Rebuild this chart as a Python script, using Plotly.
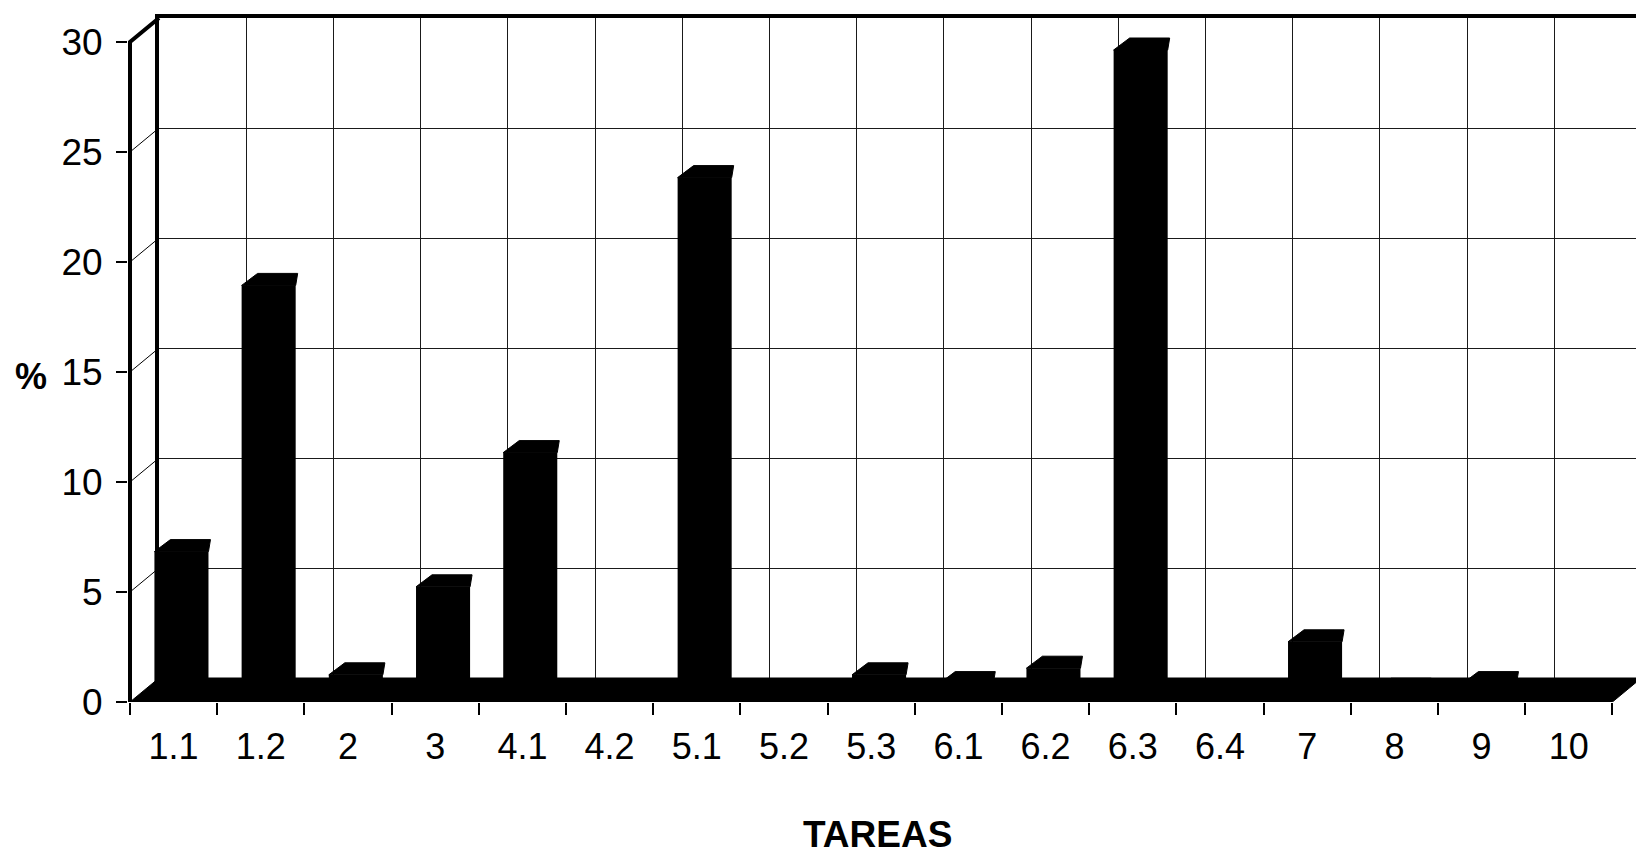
import plotly.graph_objects as go

# ---------------- data ----------------
CATEGORIES = ["1.1", "1.2", "2", "3", "4.1", "4.2", "5.1", "5.2", "5.3",
              "6.1", "6.2", "6.3", "6.4", "7", "8", "9", "10"]
PERCENT = [6.4, 18.5, 0.8, 4.8, 10.9, 0.0, 23.4, 0.0, 0.8,
           0.4, 1.1, 29.2, 0.0, 2.3, 0.1, 0.4, 0.0]
Y_TICKS = [0, 5, 10, 15, 20, 25, 30]
X_TITLE = "TAREAS"
Y_TITLE = "%"

# ---------------- geometry / style ----------------
FIG_W, FIG_H = 1636, 859
M_L, M_R, M_T, M_B = 128, 0, 18, 157
FRONT_X0_PX = 130          # pixel x of the front (left) value axis
PX_CAT = 87.2              # pixels per category slot
PX_PCT = 22.0              # pixels per percent unit
DEPTH_PX_X, DEPTH_PX_Y = 29, 24   # 3-D depth offset of the back wall
BAR_DEPTH = 0.4            # fraction of depth where bar front faces sit
BAR_LEFT = 0.28            # bar left edge from slot start (category units)
BAR_W = 0.62
CAP_DXL, CAP_DXR, CAP_DY = 16 / PX_CAT, 2 / PX_CAT, 12 / PX_PCT
FONT = "Liberation Sans, Arial, Helvetica, sans-serif"
INK = "black"
GRID = "#1a1a1a"

plot_w = FIG_W - M_L - M_R
plot_h = FIG_H - M_T - M_B
ddx = DEPTH_PX_X / PX_CAT
ddy = DEPTH_PX_Y / PX_PCT
n = len(CATEGORIES)
xs = list(range(n))
ymax = max(Y_TICKS)

x_lo = -0.5 - (FRONT_X0_PX - M_L) / PX_CAT
x_hi = x_lo + plot_w / PX_CAT
y_hi = plot_h / PX_PCT

# back wall subplot geometry
bw_x0 = (FRONT_X0_PX + DEPTH_PX_X - M_L) / plot_w
bw_xhi = -0.5 + (1 - bw_x0) * plot_w / PX_CAT
bw_y0 = DEPTH_PX_Y / plot_h
bw_y1 = min(1.0, (DEPTH_PX_Y + ymax * PX_PCT) / plot_h)

fig = go.Figure()

# dummy trace so the back-wall subplot exists
fig.add_trace(go.Scatter(x=[None], y=[None], xaxis="x", yaxis="y",
                         showlegend=False, hoverinfo="skip"))

# floor (black slab)
fig.add_trace(go.Scatter(
    x=[-0.5, n - 0.5, n - 0.5 + ddx, -0.5 + ddx, -0.5],
    y=[0, 0, ddy, ddy, 0],
    fill="toself", fillcolor=INK, line=dict(color=INK, width=1),
    mode="lines", xaxis="x2", yaxis="y2", showlegend=False, hoverinfo="skip"))

# bars
bar_base = BAR_DEPTH * ddy
fig.add_trace(go.Bar(
    x=xs, y=PERCENT, base=bar_base, width=BAR_W, offset=BAR_LEFT - 0.5,
    marker=dict(color=INK, line=dict(width=0)),
    xaxis="x2", yaxis="y2", showlegend=False, hoverinfo="skip"))

# bar tops (3-D caps)
cx, cy = [], []
for i, v in zip(xs, PERCENT):
    if v <= 0:
        continue
    xl = i - 0.5 + BAR_LEFT
    xr = xl + BAR_W
    top = v + bar_base
    cx += [xl, xl + CAP_DXL, xr + CAP_DXR, xr, xl, None]
    cy += [top, top + CAP_DY, top + CAP_DY, top, top, None]
fig.add_trace(go.Scatter(x=cx, y=cy, fill="toself", fillcolor=INK,
                         line=dict(color=INK, width=1), mode="lines",
                         xaxis="x2", yaxis="y2", showlegend=False,
                         hoverinfo="skip"))

# side-wall gridlines (front axis to back wall)
sx, sy = [], []
for v in Y_TICKS[1:-1]:
    sx += [-0.5, -0.5 + ddx, None]
    sy += [v, v + ddy, None]
fig.add_trace(go.Scatter(x=sx, y=sy, mode="lines",
                         line=dict(color=INK, width=1),
                         xaxis="x2", yaxis="y2", showlegend=False,
                         hoverinfo="skip"))

# top-left edge and front value axis line
fig.add_trace(go.Scatter(x=[-0.5, -0.5, -0.5 + ddx], y=[0, ymax, ymax + ddy],
                         mode="lines", line=dict(color=INK, width=4),
                         xaxis="x2", yaxis="y2", showlegend=False,
                         hoverinfo="skip"))

fig.update_layout(
    width=FIG_W, height=FIG_H,
    margin=dict(l=M_L, r=M_R, t=M_T, b=M_B, pad=0),
    paper_bgcolor="white", plot_bgcolor="rgba(0,0,0,0)",
    showlegend=False, hovermode=False,
    font=dict(family=FONT, color=INK),
    # back wall
    xaxis=dict(domain=[bw_x0, 1], range=[-0.5, bw_xhi], anchor="y",
               tickmode="linear", tick0=-0.5, dtick=1,
               showgrid=True, gridcolor=GRID, gridwidth=1,
               showticklabels=False, ticks="", zeroline=False,
               showline=True, side="top", linewidth=4, linecolor=INK,
               fixedrange=True),
    yaxis=dict(domain=[bw_y0, bw_y1], range=[0, ymax], anchor="x",
               tickmode="array", tickvals=Y_TICKS,
               showgrid=True, gridcolor=GRID, gridwidth=1,
               showticklabels=False, ticks="", zeroline=False,
               showline=True, linewidth=4, linecolor=INK, fixedrange=True),
    # front axes
    xaxis2=dict(domain=[0, 1], range=[x_lo, x_hi], anchor="y2",
                tickmode="array", tickvals=xs, ticktext=CATEGORIES,
                ticks="", showgrid=False, zeroline=False, showline=False,
                tickfont=dict(size=36, family=FONT, color=INK),
                ticklabelstandoff=20,
                minor=dict(tickmode="array",
                           tickvals=[i - 0.5 for i in range(n + 1)],
                           ticks="outside", ticklen=12, tickwidth=1.5,
                           tickcolor=INK, showgrid=False),
                fixedrange=True),
    yaxis2=dict(domain=[0, 1], range=[0, y_hi], anchor="x2",
                tickmode="array", tickvals=Y_TICKS,
                ticks="outside", ticklen=11, tickwidth=1.5, tickcolor=INK,
                showgrid=False, zeroline=False, showline=False,
                tickfont=dict(size=37, family=FONT, color=INK),
                ticklabelstandoff=6, fixedrange=True),
    annotations=[
        dict(text=f"<b>{X_TITLE}</b>", xref="paper", yref="paper",
             x=(877 - M_L) / plot_w, y=(FIG_H - M_B - 834) / plot_h,
             xanchor="center", yanchor="middle", showarrow=False,
             font=dict(size=37, family=FONT, color=INK)),
        dict(text=f"<b>{Y_TITLE}</b>", xref="paper", yref="paper",
             x=(31 - M_L) / plot_w, y=(FIG_H - M_B - 376) / plot_h,
             xanchor="center", yanchor="middle", showarrow=False,
             font=dict(size=36, family=FONT, color=INK)),
    ],
)

fig.write_html("out.html")
